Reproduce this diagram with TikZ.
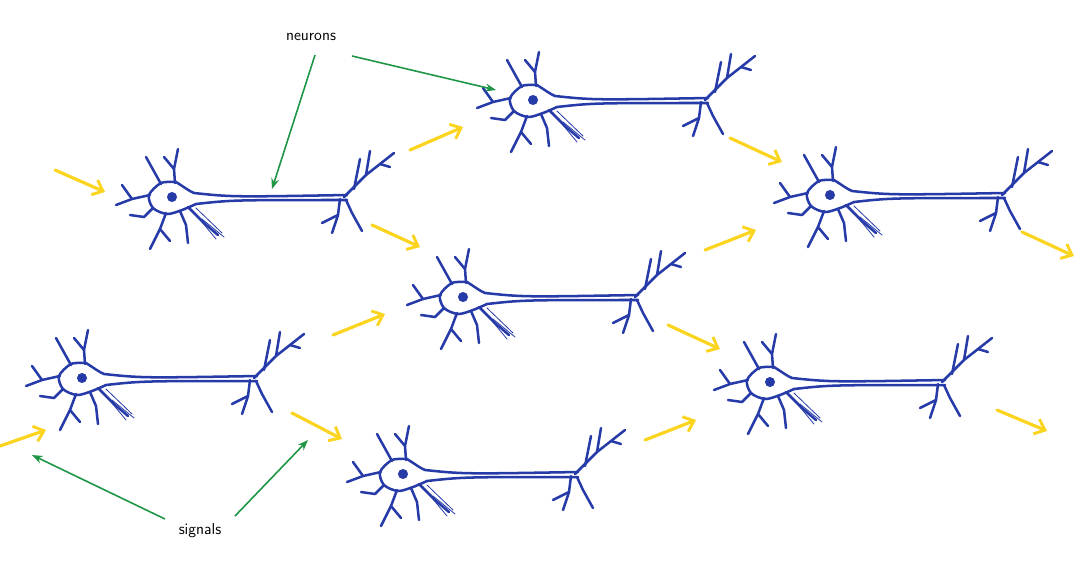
\documentclass[tikz,border=0pt]{standalone}
\usetikzlibrary{arrows.meta}
\definecolor{nblue}{RGB}{38,58,168}
\definecolor{syel}{RGB}{250,212,30}
\definecolor{lgreen}{RGB}{30,150,70}
\tikzset{
 nline/.style={draw=nblue,line width=1.9pt,line cap=round,line join=round},
 thinl/.style={draw=nblue,line width=0.6pt,line cap=round},
 sig/.style={draw=syel,line width=2.4pt,line cap=round,-{Straight Barb[length=7pt,width=12pt,line width=2.2pt]}},
 lbl/.style={font=\sffamily\large},
 garrow/.style={draw=lgreen,line width=1.2pt,-{Stealth[length=8pt,width=6pt]}},
 neuron/.pic={
  \fill[nblue] (0,0) circle (3.8pt);
  \draw[nline] plot[smooth] coordinates {(4,-15) (-11,-14) (-23,-2) (-19,11) (-5,17) (10,13) (24,7)};
  \draw[nline] (4,-15) .. controls (12,-10) and (17,-6) .. (22,-4) .. controls (60,0) .. (175,-2);
  \draw[nline] (24,7) .. controls (60,3) .. (175,3);
  % dendrites
  \draw[nline] (3,-14) -- (2,-28) -- (6,-48);
  \draw[nline] (2,-28) -- (-8,-40);
  \draw[nline] (-11,-13) -- (-26,-40);
  \draw[nline] (-22,-2) -- (-40,2) -- (-56,8);
  \draw[nline] (-40,2) -- (-50,-12);
  \draw[nline] (-19,11) -- (-28,20) -- (-42,18);
  \draw[nline] (-6,16) -- (-12,32) -- (-22,52);
  \draw[nline] (-12,32) -- (-2,44);
  \draw[nline] (8,14) -- (14,28) -- (16,46);
  \draw[nline] (16,10) -- (32,26) -- (46,38);
  \draw[thinl] (20,13) -- (44,42); \draw[thinl] (24,11) -- (50,36); \draw[thinl] (30,22) -- (52,40);
  % terminals
  \draw[nline] (172,0) -- (194,-22) -- (198,-46);
  \draw[nline] (194,-22) -- (222,-44);
  \draw[nline] (208,-33) -- (218,-30);
  \draw[nline] (182,-8) -- (188,-38);
  \draw[nline] (168,2) -- (166,18) -- (160,36);
  \draw[nline] (174,3) -- (180,16) -- (190,34);
  \draw[nline] (166,18) -- (150,26);
 }
}
\begin{document}
\begin{tikzpicture}[x=0.0265cm,y=-0.0265cm]
\useasboundingbox (0,0) rectangle (1082,573);
\pic at (172,197) {neuron};
\pic at (533,100) {neuron};
\pic at (463,297) {neuron};
\pic at (830,195) {neuron};
\pic at (82,378) {neuron};
\pic at (403,474) {neuron};
\pic at (770,382) {neuron};
% signals
\coordinate (s1a) at (55,170); \coordinate (s1b) at (105,192);
\coordinate (s2a) at (410,150); \coordinate (s2b) at (463,127);
\coordinate (s3a) at (372,225); \coordinate (s3b) at (420,247);
\coordinate (s4a) at (730,138); \coordinate (s4b) at (782,162);
\coordinate (s5a) at (705,250); \coordinate (s5b) at (756,230);
\coordinate (s6a) at (1022,232); \coordinate (s6b) at (1074,256);
\coordinate (s7a) at (333,335); \coordinate (s7b) at (385,314);
\coordinate (s8a) at (668,325); \coordinate (s8b) at (720,349);
\coordinate (s9a) at (0,446); \coordinate (s9b) at (46,430);
\coordinate (s10a) at (292,413); \coordinate (s10b) at (342,439);
\coordinate (s11a) at (645,440); \coordinate (s11b) at (696,420);
\coordinate (s12a) at (997,410); \coordinate (s12b) at (1047,431);
\foreach \i in {1,...,12} \draw[sig] (s\i a) -- (s\i b);
% labels
\node[lbl] (neur) at (311,37) {neurons};
\node[lbl] (sigl) at (200,531) {signals};
\coordinate (n1) at (272,189); \coordinate (n2) at (496,90);
\coordinate (g1) at (32,455); \coordinate (g2) at (308,440);
\draw[garrow] (315,55) -- (n1);
\draw[garrow] (352,56) -- (n2);
\draw[garrow] (165,519) -- (g1);
\draw[garrow] (235,516) -- (g2);
\end{tikzpicture}
\end{document}
